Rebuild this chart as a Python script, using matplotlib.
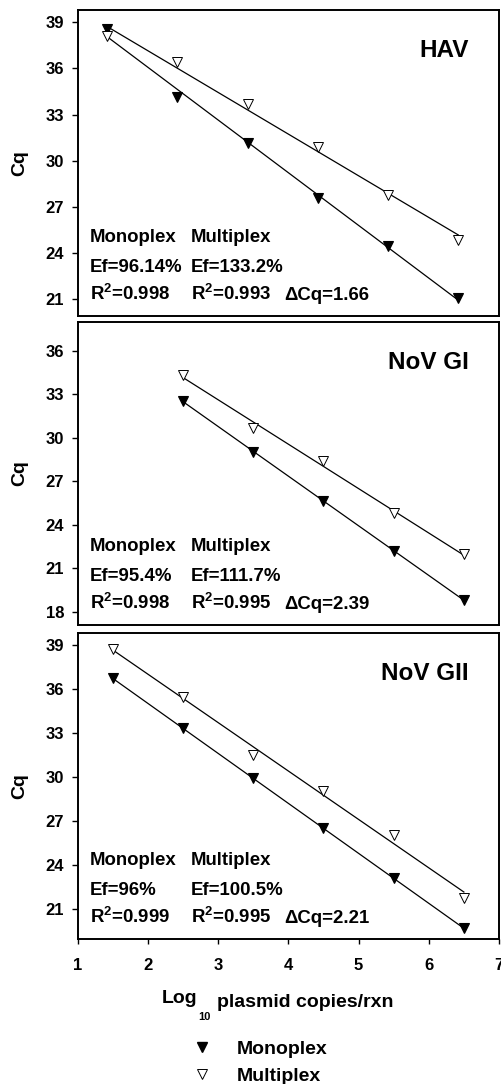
import numpy as np
import matplotlib
matplotlib.use("Agg")
import matplotlib.pyplot as plt
from matplotlib.lines import Line2D

plt.rcParams['font.family'] = ['Liberation Sans', 'DejaVu Sans']
plt.rcParams['font.weight'] = 'bold'
plt.rcParams['mathtext.fontset'] = 'custom'
plt.rcParams['mathtext.rm'] = 'Liberation Sans:bold'
plt.rcParams['mathtext.it'] = 'Liberation Sans:bold'
plt.rcParams['mathtext.bf'] = 'Liberation Sans:bold'
plt.rcParams['mathtext.default'] = 'rm'

# ---------------- data ----------------
hav_x = [1.42, 2.42, 3.42, 4.42, 5.42, 6.42]
hav_mono = [38.56, 34.15, 31.16, 27.57, 24.45, 21.10]
hav_multi = [38.10, 36.40, 33.68, 30.88, 27.80, 24.84]

gi_x = [2.5, 3.5, 4.5, 5.5, 6.5]
gi_mono = [32.54, 29.05, 25.66, 22.23, 18.82]
gi_multi = [34.34, 30.71, 28.40, 24.80, 21.97]

gii_x = [1.5, 2.5, 3.5, 4.5, 5.5, 6.5]
gii_mono = [36.73, 33.32, 29.91, 26.50, 23.09, 19.68]
gii_multi = [38.73, 35.43, 31.50, 29.03, 26.05, 21.73]

titles = ["HAV", "NoV GI", "NoV GII"]
ef_mono = ["Ef=96.14%", "Ef=95.4%", "Ef=96%"]
ef_multi = ["Ef=133.2%", "Ef=111.7%", "Ef=100.5%"]
r2_mono = ["0.998", "0.998", "0.999"]
r2_multi = ["0.993", "0.995", "0.995"]
dcq = ["1.66", "2.39", "2.21"]
y_ticks = [[21, 24, 27, 30, 33, 36, 39],
           [18, 21, 24, 27, 30, 33, 36],
           [21, 24, 27, 30, 33, 36, 39]]
y_lims = [(19.9, 39.8), (17.1, 38.0), (18.95, 39.84)]
x_ticks = [1, 2, 3, 4, 5, 6, 7]

panels = [(hav_x, hav_mono, hav_multi), (gi_x, gi_mono, gi_multi), (gii_x, gii_mono, gii_multi)]

W, H = 501, 1084
fig = plt.figure(figsize=(W / 100, H / 100), dpi=100)

left_px, right_px = 77.5, 499
boxes = [(10, 316), (322, 625), (632.7, 939)]

ms = 7.5
for i, ((x, mono, multi), (top, bot)) in enumerate(zip(panels, boxes)):
    ax = fig.add_axes([left_px / W, 1 - bot / H, (right_px - left_px) / W, (bot - top) / H])
    x = np.array(x)
    for y in (mono, multi):
        p = np.polyfit(x, y, 1)
        xx = np.array([x[0], x[-1]])
        ax.plot(xx, np.polyval(p, xx), color='black', lw=0.9, zorder=2)
    ax.plot(x, mono, ls='none', marker='v', ms=ms, mfc='black', mec='black', mew=0.8, zorder=3)
    ax.plot(x, multi, ls='none', marker='v', ms=ms, mfc='white', mec='black', mew=0.7, zorder=3)
    ax.set_xlim(1, 7)
    ax.set_ylim(*y_lims[i])
    ax.set_yticks(y_ticks[i])
    ax.tick_params(axis='y', direction='out', length=4.5, width=1, labelsize=12, pad=5)
    if i < 2:
        ax.set_xticks([])
    else:
        ax.set_xticks(x_ticks)
        ax.tick_params(axis='x', direction='out', length=3.5, width=1, labelsize=12, pad=10)
    for s in ax.spines.values():
        s.set_linewidth(1.4)
    ax.set_ylabel("Cq", fontsize=14, fontweight='bold')
    ax.yaxis.set_label_coords(-0.117, 0.5)

    ax.annotate(titles[i], xy=(0.929, 1), xycoords='axes fraction', xytext=(0, -33.8),
                textcoords='offset points', ha='right', va='baseline', fontsize=17.5, fontweight='bold')
    fx1, fx2, fx3 = 0.0297, 0.2686, 0.4899
    rows = [(53, "Monoplex", "Multiplex", None),
            (32, ef_mono[i], ef_multi[i], None),
            (11.5, "R$^{2}$=" + r2_mono[i], "R$^{2}$=" + r2_multi[i], "\u0394Cq=" + dcq[i])]
    for dy, a, b, c in rows:
        for fx, t in ((fx1, a), (fx2, b), (fx3, c)):
            if t is None:
                continue
            ax.annotate(t, xy=(fx, 0), xycoords='axes fraction', xytext=(0, dy),
                        textcoords='offset points', ha='left', va='baseline', fontsize=13.4, fontweight='bold')

# x label built from pieces: Log, subscript 10, rest
t1 = fig.text(161.7 / W, 1 - 1003 / H, "Log", fontsize=14, fontweight='bold', ha='left', va='baseline')
fig.add_artist(plt.Annotation("10", xy=(1, 0), xycoords=t1, xytext=(0.5, -9.5),
                              textcoords='offset points', fontsize=8, fontweight='bold',
                              ha='left', va='baseline'))
fig.add_artist(plt.Annotation("plasmid copies/rxn", xy=(1, 0), xycoords=t1, xytext=(14.5, 0),
                              textcoords='offset points', fontsize=14, fontweight='bold',
                              ha='left', va='baseline'))

handles = [Line2D([], [], ls='none', marker='v', ms=ms, mfc='black', mec='black'),
           Line2D([], [], ls='none', marker='v', ms=ms, mfc='white', mec='black', mew=0.7)]
fig.legend(handles, ["Monoplex", "Multiplex"], loc='upper left',
           bbox_to_anchor=(192 / W, 1 - 1040 / H), frameon=False, fontsize=14,
           handlelength=1.0, handletextpad=1.3, labelspacing=0.5, borderpad=0, borderaxespad=0)

fig.savefig("out.png", dpi=100)
